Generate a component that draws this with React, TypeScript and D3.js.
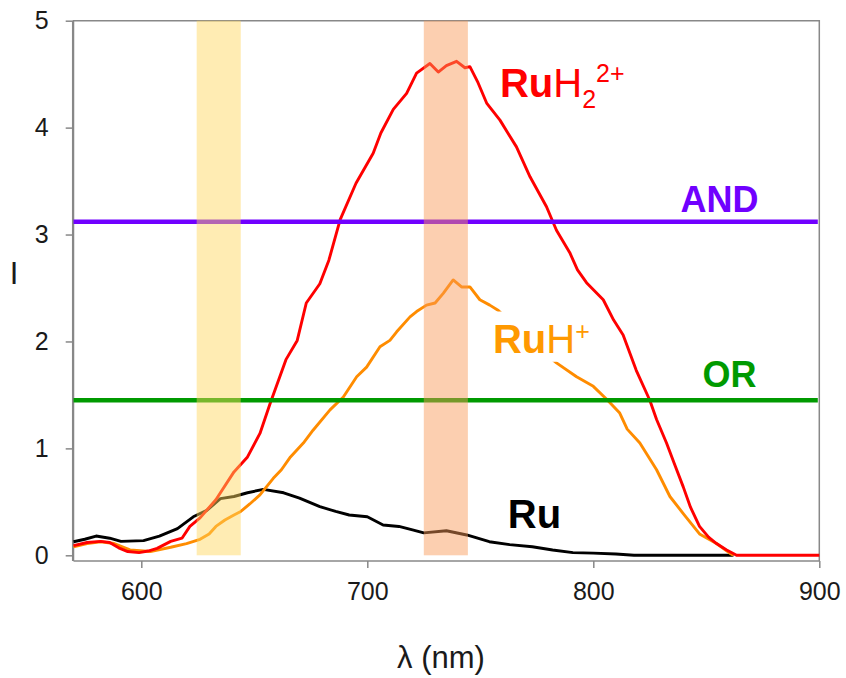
import React, { useRef, useEffect } from "react";
import * as d3 from "d3";

// wavelengths (nm) and intensities
const ruNm = [570, 575, 580, 586, 591, 601, 608, 616, 623, 629, 635, 641, 647, 654, 663, 670, 679, 686, 692, 700, 707, 714, 720, 725, 735, 744, 754, 763, 773, 782, 791, 800, 810, 818, 840, 862];
const ruI = [0.127, 0.15, 0.18, 0.16, 0.13, 0.137, 0.18, 0.25, 0.36, 0.42, 0.53, 0.55, 0.585, 0.617, 0.585, 0.535, 0.455, 0.41, 0.377, 0.36, 0.283, 0.27, 0.237, 0.21, 0.23, 0.19, 0.127, 0.1, 0.08, 0.05, 0.025, 0.02, 0.012, 0, 0, 0];

const ruH2Nm = [570, 576, 582, 586, 590, 594, 599, 603, 607, 613, 618, 621.5, 626, 633, 641, 647, 652.5, 657, 664, 669, 673, 679, 683, 688, 695, 702.6, 706, 711.5, 717.4, 721.8, 727.7, 731.4, 735, 739.5, 743.2, 745.4, 749, 752.8, 758.7, 766, 772, 779.3, 783.7, 789.6, 793, 797, 804.4, 809, 813.2, 819, 825, 828, 832.4, 836, 839.8, 843, 847, 851, 854.5, 859, 863.4, 900];
const ruH2I = [0.09, 0.12, 0.13, 0.12, 0.07, 0.035, 0.025, 0.04, 0.065, 0.13, 0.16, 0.27, 0.35, 0.52, 0.78, 0.92, 1.14, 1.42, 1.83, 2.01, 2.36, 2.54, 2.76, 3.14, 3.48, 3.76, 3.95, 4.17, 4.32, 4.51, 4.6, 4.52, 4.58, 4.62, 4.56, 4.57, 4.42, 4.23, 4.07, 3.82, 3.54, 3.26, 3.04, 2.83, 2.67, 2.55, 2.39, 2.2, 2.06, 1.73, 1.45, 1.27, 1.05, 0.85, 0.64, 0.45, 0.27, 0.17, 0.11, 0.05, 0, 0];

const ruHNm = [570, 576, 582, 588, 595, 604, 613, 620, 626, 630, 633, 637, 641, 644, 648, 652.5, 658.4, 662, 666, 671.7, 676, 683.5, 689.4, 695.3, 699.7, 705.6, 710, 713, 718.9, 721.8, 726.2, 730, 733.6, 738, 741.7, 745.4, 749.8, 754.2, 758, 765, 772, 778, 783.7, 792.6, 800, 805.9, 811.7, 815, 820.6, 828, 833.9, 839.8, 847, 854.5, 860.4, 862];
const ruHI = [0.08, 0.11, 0.127, 0.11, 0.05, 0.035, 0.075, 0.11, 0.15, 0.2, 0.27, 0.33, 0.377, 0.41, 0.48, 0.565, 0.72, 0.8, 0.92, 1.05, 1.17, 1.36, 1.48, 1.67, 1.76, 1.95, 2.01, 2.09, 2.23, 2.28, 2.34, 2.36, 2.45, 2.575, 2.51, 2.51, 2.39, 2.34, 2.29, 2.15, 2.0, 1.9, 1.8, 1.67, 1.58, 1.46, 1.33, 1.18, 1.05, 0.8, 0.55, 0.39, 0.2, 0.11, 0.02, 0];

// logic thresholds and excitation bands
const andLevel = 3.12;
const orLevel = 1.45;
const bands = [
  { from: 624.5, to: 644, color: "#FFD75E" },
  { from: 725, to: 744.5, color: "#F89858" },
];

const xTicks = [600, 700, 800, 900];
const yTicks = [0, 1, 2, 3, 4, 5];

export default function App() {
  const svgRef = useRef(null);

  useEffect(() => {
    document.body.style.margin = "0";
    const width = 846;
    const height = 678;
    const font = "'Liberation Sans', Arial, sans-serif";
    const axisColor = "#888";

    const x = d3.scaleLinear().domain([570, 900]).range([73.5, 819.3]);
    const y = d3.scaleLinear().domain([0, 5]).range([555.3, 20.7]);
    const axisY = 561;

    const svg = d3.select(svgRef.current)
      .attr("width", width)
      .attr("height", height)
      .attr("viewBox", [0, 0, width, height])
      .style("display", "block")
      .style("font-family", font);
    svg.selectAll("*").remove();

    // frame
    svg.append("path")
      .attr("d", `M${x(570)},${axisY}V${y(5)}H${x(900)}V${axisY}`)
      .attr("fill", "none")
      .attr("stroke", axisColor)
      .attr("stroke-width", 1.5);

    // y axis
    const gy = svg.append("g")
      .attr("transform", `translate(${x(570) - 0.8},0)`)
      .call(d3.axisLeft(y).tickValues(yTicks).tickFormat(d3.format("d")).tickSize(7).tickPadding(17));
    gy.select(".domain").attr("stroke", axisColor).attr("stroke-width", 1.5)
      .attr("d", `M0,${axisY}V${y(5)}`);
    gy.selectAll(".tick line").attr("stroke", axisColor).attr("stroke-width", 1.5);
    gy.selectAll(".tick text").attr("font-size", 25).attr("font-family", font).attr("fill", "#1a1a1a");

    // x axis
    const gx = svg.append("g")
      .attr("transform", `translate(0,${axisY})`)
      .call(d3.axisBottom(x).tickValues(xTicks).tickFormat(d3.format("d")).tickSize(7).tickPadding(14));
    gx.select(".domain").attr("stroke", axisColor).attr("stroke-width", 1.5)
      .attr("d", `M${x(570)},0H${x(900)}`);
    gx.selectAll(".tick line").attr("stroke", axisColor).attr("stroke-width", 1.5);
    gx.selectAll(".tick text").attr("font-size", 25).attr("font-family", font).attr("fill", "#1a1a1a");

    // axis titles
    svg.append("text")
      .attr("x", 441).attr("y", 668)
      .attr("text-anchor", "middle")
      .attr("font-size", 31)
      .attr("fill", "#1a1a1a")
      .text("λ (nm)");
    svg.append("text")
      .attr("x", 14).attr("y", 284)
      .attr("text-anchor", "middle")
      .attr("font-size", 31)
      .attr("fill", "#1a1a1a")
      .text("I");

    const line = (nm: number[], vals: number[]) =>
      d3.line<number>().x((d) => x(d)).y((d, i) => y(vals[i]))(nm);

    const series = [
      { nm: ruNm, vals: ruI, color: "#000" },
      { nm: ruHNm, vals: ruHI, color: "#FF8C00" },
      { nm: ruH2Nm, vals: ruH2I, color: "#FF0000" },
    ];
    svg.append("g")
      .selectAll("path")
      .data(series)
      .join("path")
      .attr("d", (s) => line(s.nm, s.vals))
      .attr("fill", "none")
      .attr("stroke", (s) => s.color)
      .attr("stroke-width", 2.9)
      .attr("stroke-linejoin", "round");

    // AND / OR thresholds
    svg.append("g")
      .selectAll("line")
      .data([{ v: andLevel, c: "#7000FF" }, { v: orLevel, c: "#009A00" }])
      .join("line")
      .attr("x1", x(570))
      .attr("x2", x(900) - 1.5)
      .attr("y1", (d) => y(d.v))
      .attr("y2", (d) => y(d.v))
      .attr("stroke", (d) => d.c)
      .attr("stroke-width", 4.5);

    // excitation bands (translucent, over the curves)
    svg.append("g")
      .selectAll("rect")
      .data(bands)
      .join("rect")
      .attr("x", (d) => x(d.from))
      .attr("width", (d) => x(d.to) - x(d.from))
      .attr("y", y(5))
      .attr("height", y(0) - y(5))
      .attr("fill", (d) => d.color)
      .attr("opacity", 0.47);

    // labels
    const labels = svg.append("g").attr("font-size", 40);

    const h2 = labels.append("text")
      .attr("x", x(758.7)).attr("y", y(4.29))
      .attr("fill", "#FF0000");
    h2.append("tspan").attr("font-weight", "bold").text("Ru");
    h2.append("tspan").text("H");
    h2.append("tspan").attr("font-size", 25).attr("dy", 11).text("2");
    h2.append("tspan").attr("font-size", 25).attr("dy", -26).text("2+");

    labels.append("rect")
      .attr("x", x(755))
      .attr("width", x(800) - x(755))
      .attr("y", y(2.28))
      .attr("height", y(1.81) - y(2.28))
      .attr("fill", "#fff");
    const h1 = labels.append("text")
      .attr("x", x(755.6)).attr("y", y(1.895))
      .attr("fill", "#FF9900");
    h1.append("tspan").attr("font-weight", "bold").text("Ru");
    h1.append("tspan").text("H");
    h1.append("tspan").attr("font-size", 25).attr("dy", -13).text("+");

    labels.append("text")
      .attr("x", x(762.2)).attr("y", y(0.255))
      .attr("font-weight", "bold")
      .attr("fill", "#000")
      .text("Ru");

    labels.append("text")
      .attr("x", x(838.6)).attr("y", y(3.214))
      .attr("font-size", 36)
      .attr("font-weight", "bold")
      .attr("fill", "#7000FF")
      .text("AND");
    labels.append("text")
      .attr("x", x(848.3)).attr("y", y(1.577))
      .attr("font-size", 36)
      .attr("font-weight", "bold")
      .attr("fill", "#009A00")
      .text("OR");
  }, []);

  return <svg ref={svgRef}></svg>;
}
